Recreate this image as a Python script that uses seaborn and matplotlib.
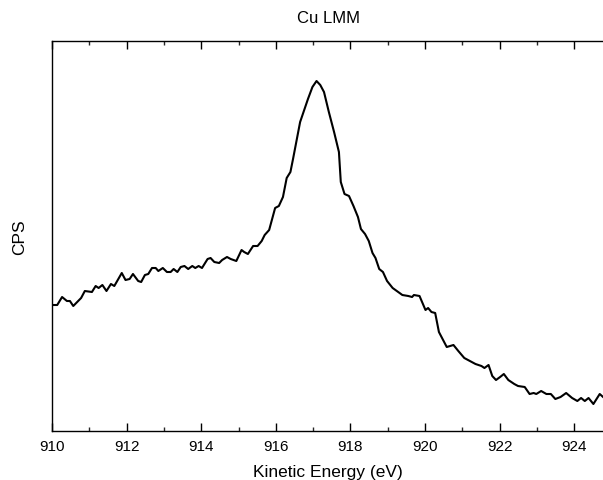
import matplotlib
matplotlib.use("Agg")
import matplotlib.pyplot as plt
from matplotlib.ticker import MultipleLocator, NullLocator
import seaborn as sns
import pandas as pd

energy_ev = [910.00, 910.14, 910.27, 910.40, 910.48, 910.57, 910.70, 910.78, 910.88, 911.07,
             911.17, 911.25, 911.35, 911.46, 911.58, 911.67, 911.87, 911.97, 912.08, 912.17,
             912.31, 912.39, 912.49, 912.58, 912.68, 912.78, 912.85, 912.97, 913.08, 913.18,
             913.26, 913.36, 913.45, 913.55, 913.65, 913.76, 913.84, 913.93, 914.02, 914.17,
             914.25, 914.35, 914.48, 914.56, 914.69, 914.79, 914.94, 915.08, 915.15, 915.25,
             915.39, 915.51, 915.62, 915.70, 915.82, 915.98, 916.08, 916.19, 916.29, 916.39,
             916.46, 916.65, 916.86, 916.98, 917.09, 917.19, 917.29, 917.42, 917.56, 917.69,
             917.74, 917.84, 917.96, 918.08, 918.20, 918.28, 918.39, 918.49, 918.59, 918.67,
             918.77, 918.87, 918.98, 919.13, 919.24, 919.39, 919.55, 919.65, 919.70, 919.85,
             920.01, 920.08, 920.17, 920.27, 920.37, 920.58, 920.76, 920.89, 921.05, 921.20,
             921.35, 921.51, 921.59, 921.70, 921.80, 921.90, 922.01, 922.11, 922.23, 922.39,
             922.49, 922.67, 922.80, 922.91, 922.98, 923.11, 923.25, 923.37, 923.49, 923.63,
             923.78, 923.94, 924.08, 924.18, 924.28, 924.38, 924.51, 924.68, 924.80]
cps = [126, 126, 134, 130, 130, 125, 130, 133, 140, 139,
       145, 143, 146, 140, 147, 145, 158, 151, 152, 157,
       150, 149, 156, 157, 163, 163, 160, 163, 159, 159,
       162, 159, 164, 165, 162, 165, 163, 165, 163, 172,
       173, 169, 168, 171, 174, 172, 170, 181, 179, 177,
       185, 185, 190, 196, 201, 223, 225, 234, 253, 259,
       272, 309, 332, 344, 350, 346, 339, 319, 299, 279,
       249, 237, 235, 225, 214, 202, 197, 190, 178, 173,
       162, 159, 150, 143, 140, 136, 135, 134, 136, 135,
       121, 123, 119, 118, 99, 84, 86, 80, 73, 70,
       67, 65, 63, 66, 55, 51, 54, 57, 51, 47,
       45, 44, 37, 38, 37, 40, 37, 37, 32, 34,
       38, 33, 30, 33, 30, 33, 27, 37, 33]

title = "Cu LMM"
x_label = "Kinetic Energy (eV)"
y_label = "CPS"

df = pd.DataFrame({"energy": energy_ev, "cps": cps})

sns.set_theme(style="white")
plt.rcParams["font.family"] = ["Liberation Sans", "DejaVu Sans"]
plt.rcParams["text.color"] = "black"
plt.rcParams["axes.labelcolor"] = "black"

fig = plt.figure(figsize=(6.03, 4.81), dpi=100)
ax = fig.add_axes([52 / 603, 49 / 481, 1 - 52 / 603 + 0.002, 390 / 481])

sns.lineplot(data=df, x="energy", y="cps", ax=ax, color="black", linewidth=1.5,
             sort=False, estimator=None)

ax.set_xlim(910, 924.8)
ax.set_ylim(0, 390)
ax.xaxis.set_major_locator(MultipleLocator(2))
ax.xaxis.set_minor_locator(MultipleLocator(1))
ax.yaxis.set_major_locator(NullLocator())
ax.tick_params(axis="x", which="major", direction="in", length=6, width=1,
               top=True, bottom=True, labelsize=11, colors="black", pad=6)
ax.tick_params(axis="x", which="minor", direction="in", length=3, width=1,
               top=True, bottom=True)
for s in ["left", "bottom", "top"]:
    ax.spines[s].set_color("black")
    ax.spines[s].set_linewidth(1)
ax.spines["right"].set_visible(False)

ax.set_title(title, fontsize=12, pad=14, color="black")
ax.set_xlabel(x_label, fontsize=12.5, labelpad=8, color="black")
ax.set_ylabel(y_label, fontsize=12.5, labelpad=18, color="black")

fig.savefig("out.png", dpi=100)
